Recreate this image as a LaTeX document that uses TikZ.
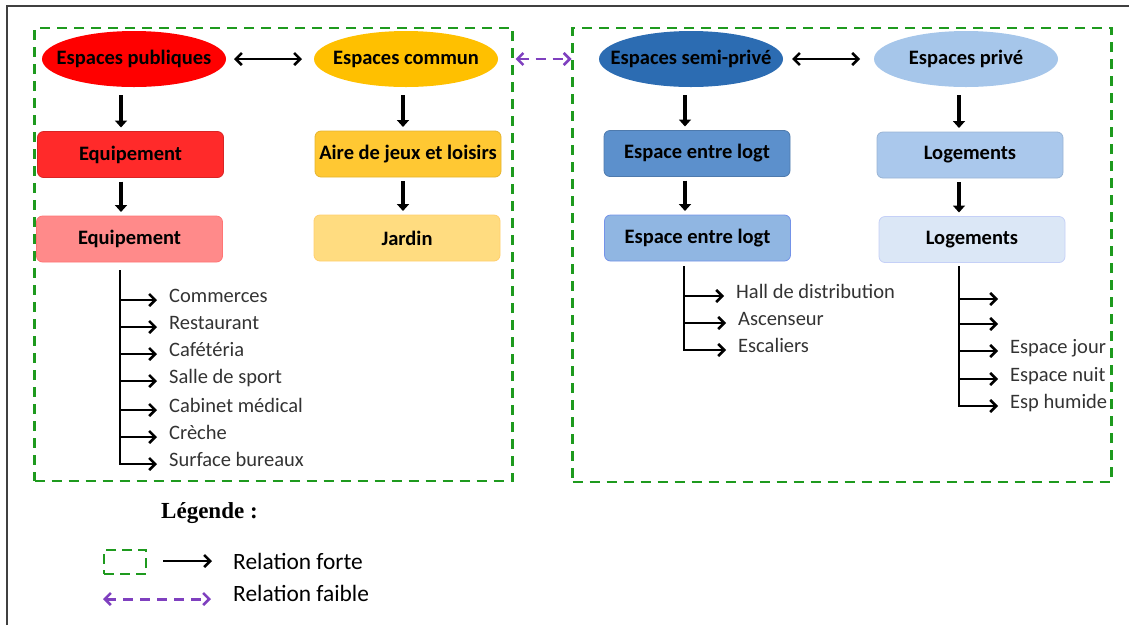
\documentclass[tikz,border=0pt]{standalone}
\usepackage{fontspec}
\setmainfont{Carlito}
\newfontfamily\legendserif{Liberation Serif}
\usetikzlibrary{positioning,arrows.meta,shapes.geometric}
\definecolor{pubred}{HTML}{FF0000}
\definecolor{eqred}{HTML}{FF2A2A}
\definecolor{eqpink}{HTML}{FF8A8A}
\definecolor{comorange}{HTML}{FFC000}
\definecolor{aireorange}{HTML}{FFC833}
\definecolor{jardinyellow}{HTML}{FFDC80}
\definecolor{semiblue}{HTML}{2C6CB2}
\definecolor{entreblue}{HTML}{5C90CC}
\definecolor{entrelight}{HTML}{90B6E2}
\definecolor{privblue}{HTML}{A6C6EA}
\definecolor{logblue}{HTML}{AAC8EC}
\definecolor{loglight}{HTML}{DBE7F6}
\definecolor{zonegreen}{HTML}{1E9A1E}
\definecolor{weakpurple}{HTML}{7F40BF}
\definecolor{leafgray}{HTML}{333333}
\tikzset{
  spacenode/.style={ellipse, inner sep=0pt, outer sep=0pt, minimum width=184pt, minimum height=56pt, font=\fontsize{20.5}{24}\selectfont\bfseries,
    execute at begin node={\hbox to 0pt\bgroup\hss}, execute at end node={\hss\egroup}},
  roombox/.style={rectangle, rounded corners=6pt, inner sep=0pt, outer sep=0pt, minimum width=186pt, minimum height=46pt, line width=0.8pt, font=\fontsize{20.5}{24}\selectfont\bfseries},
  zone/.style={draw=zonegreen, line width=2.8pt, dash pattern=on 10pt off 7pt, inner sep=0pt, outer sep=0pt},
  barb/.tip={Straight Barb[length=6pt,width=12pt,line width=2.6pt]},
  linkarrow/.style={barb-barb, line width=2pt},
  weaklink/.style={barb-barb, draw=weakpurple, line width=2.6pt, dash pattern=on 10pt off 7pt},
  downarrow/.style={-{Triangle[length=7pt,width=12pt]}, line width=3.8pt},
  branch/.style={-barb, line width=2pt},
  leaf/.style={anchor=west, inner xsep=12pt, inner ysep=0pt, text height=0.75em, text depth=0.2em, text=leafgray, font=\fontsize{20.5}{24}\selectfont},
  legendtext/.style={anchor=west, inner sep=0pt, font=\fontsize{23.4}{27}\selectfont}
}

\begin{document}
\begin{tikzpicture}[x=1pt, y=-1pt]
  \useasboundingbox (0,0) rectangle (1129,625);
  \draw[draw=black!75, line width=1.4pt] (7,625) -- (7,6) -- (1129,6);

  % zones
  \node[zone, minimum width=478pt, minimum height=453pt] (pubzone) at (273.5,254.5) {};
  \node[zone, minimum width=539pt, minimum height=454pt] (privzone) at (842,255) {};

  % espaces
  \node[spacenode, fill=pubred] (pub) at (134,59) {Espaces publiques};
  \node[spacenode, fill=comorange] (com) at (406,59) {Espaces commun};
  \node[spacenode, fill=semiblue] (semi) at (691,59) {Espaces semi-privé};
  \node[spacenode, fill=privblue] (priv) at (966,59) {Espaces privé};

  \node[roombox, fill=eqred, draw=eqred!85!black] (eq1) at (130.5,154.5) {Equipement};
  \node[roombox, fill=eqpink, draw=eqpink!85!red] (eq2) at (129.5,239) {Equipement};
  \node[roombox, fill=aireorange, draw=aireorange!90!black] (aire) at (408,154) {Aire de jeux et loisirs};
  \node[roombox, fill=jardinyellow, draw=jardinyellow!85!orange] (jardin) at (407,238) {Jardin};
  \node[roombox, fill=entreblue, draw=entreblue!85!black] (entre1) at (697,153.5) {Espace entre logt};
  \node[roombox, fill=entrelight, draw=entrelight!80!blue] (entre2) at (697.5,238) {Espace entre logt};
  \node[roombox, fill=logblue, draw=logblue!90!black] (log1) at (970,155) {Logements};
  \node[roombox, fill=loglight, draw=loglight!90!blue] (log2) at (972,239.5) {Logements};

  \draw[linkarrow] ([xshift=8pt]pub.east) -- ([xshift=-12pt]com.west);
  \draw[linkarrow] ([xshift=9pt]semi.east) -- ([xshift=-14pt]priv.west);
  \draw[weaklink] ([xshift=3pt]pubzone.east |- com) -- ([xshift=-1pt]privzone.west |- semi);

  \coordinate (colA) at (121,0);
  \coordinate (colB) at (403,0);
  \coordinate (colC) at (685,0);
  \coordinate (colD) at (959,0);
  \draw[downarrow, shorten <=8pt, shorten >=4pt] (pub.south -| colA) -- (eq1.north -| colA);
  \draw[downarrow, shorten <=4pt, shorten >=4pt] (eq1.south -| colA) -- (eq2.north -| colA);
  \draw[downarrow, shorten <=8pt, shorten >=4pt] (com.south -| colB) -- (aire.north -| colB);
  \draw[downarrow, shorten <=4pt, shorten >=4pt] (aire.south -| colB) -- (jardin.north -| colB);
  \draw[downarrow, shorten <=8pt, shorten >=4pt] (semi.south -| colC) -- (entre1.north -| colC);
  \draw[downarrow, shorten <=4pt, shorten >=4pt] (entre1.south -| colC) -- (entre2.north -| colC);
  \draw[downarrow, shorten <=8pt, shorten >=4pt] (priv.south -| colD) -- (log1.north -| colD);
  \draw[downarrow, shorten <=4pt, shorten >=4pt] (log1.south -| colD) -- (log2.north -| colD);

  % equipements
  \coordinate (eqroot) at (120,270);
  \node[leaf] (c1) at (157,300) {Commerces};
  \node[leaf] (c2) at (157,327) {Restaurant};
  \node[leaf] (c3) at (157,354) {Cafétéria};
  \node[leaf] (c4) at (157,381) {Salle de sport};
  \node[leaf] (c5) at (157,410) {Cabinet médical};
  \node[leaf] (c6) at (157,437) {Crèche};
  \node[leaf] (c7) at (157,464) {Surface bureaux};
  \draw[branch] (eqroot) |- (c7.west);
  \foreach \n in {c1,c2,c3,c4,c5,c6}
    \draw[branch] (eqroot |- \n.west) -- (\n.west);

  % espace entre logt
  \coordinate (entreroot) at (684,266);
  \node[leaf] (s1) at (724,296) {Hall de distribution};
  \node[leaf] (s2) at (726,323) {Ascenseur};
  \node[leaf] (s3) at (726,350) {Escaliers};
  \draw[branch] (entreroot) |- (s3.west);
  \foreach \n in {s1,s2}
    \draw[branch] (entreroot |- \n.west) -- (\n.west);

  % logements
  \coordinate (logroot) at (959,266);
  \coordinate (p1) at (998,299);
  \coordinate (p2) at (998,324);
  \node[leaf] (p3) at (998,351) {Espace jour};
  \node[leaf] (p4) at (998,379) {Espace nuit};
  \node[leaf] (p5) at (998,406) {Esp humide};
  \draw[branch] (logroot) |- (p5.west);
  \foreach \n in {p1,p2}
    \draw[branch] (logroot |- \n) -- (\n);
  \foreach \n in {p3,p4}
    \draw[branch] (logroot |- \n.west) -- (\n.west);

  % legende
  \node[anchor=west, inner sep=0pt, font=\legendserif\fontsize{23}{27}\selectfont\bfseries] (legtitle) at (161,513) {Légende :};
  \node[zone, line width=2.6pt, dash pattern=on 10pt off 6pt, minimum width=42pt, minimum height=24pt] (legzone) at (125,562) {};
  \coordinate (legA) at (163,561);
  \coordinate (legB) at (212,561);
  \draw[-barb, line width=2.2pt] (legA) -- (legB);
  \node[legendtext] (legforte) at (233,561) {Relation forte};
  \coordinate (legC) at (103,599);
  \coordinate (legD) at (211,599);
  \draw[weaklink, line width=3pt] (legC) -- (legD);
  \node[legendtext] (legfaible) at (233,593) {Relation faible};
\end{tikzpicture}
\end{document}
